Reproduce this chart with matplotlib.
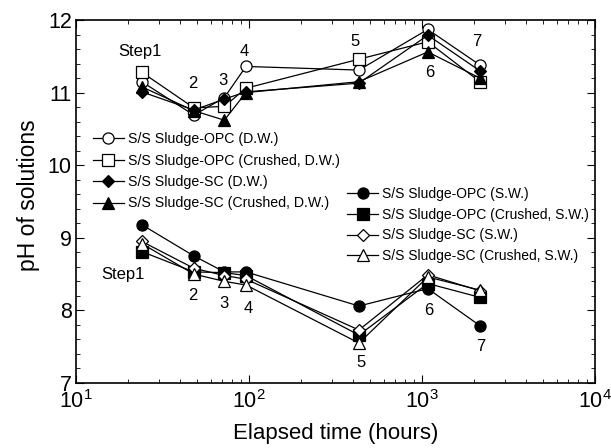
import matplotlib
matplotlib.use("Agg")
import matplotlib.pyplot as plt
from matplotlib.ticker import MultipleLocator, LogLocator, NullFormatter

plt.rcParams['font.family'] = ['Liberation Sans', 'DejaVu Sans']
plt.rcParams['mathtext.fontset'] = 'custom'
plt.rcParams['mathtext.rm'] = 'Liberation Sans'

times = [24, 48, 72, 96, 432, 1080, 2160]

# D.W. series
opc_dw = [11.15, 10.69, 10.93, 11.36, 11.31, 11.87, 11.38]
opc_cr_dw = [11.28, 10.79, 10.81, 11.06, 11.46, 11.70, 11.15]
sc_dw = [11.01, 10.76, 10.91, 11.01, 11.13, 11.79, 11.30]
sc_cr_dw = [11.08, 10.75, 10.62, 11.00, 11.15, 11.56, 11.20]

# S.W. series
opc_sw = [9.18, 8.75, 8.53, 8.53, 8.06, 8.30, 7.79]
opc_cr_sw = [8.81, 8.53, 8.52, 8.48, 7.66, 8.37, 8.18]
sc_sw = [8.95, 8.58, 8.48, 8.43, 7.73, 8.49, 8.27]
sc_cr_sw = [8.92, 8.50, 8.40, 8.35, 7.55, 8.46, 8.28]

labels_dw = ['S/S Sludge-OPC (D.W.)', 'S/S Sludge-OPC (Crushed, D.W.)',
             'S/S Sludge-SC (D.W.)', 'S/S Sludge-SC (Crushed, D.W.)']
labels_sw = ['S/S Sludge-OPC (S.W.)', 'S/S Sludge-OPC (Crushed, S.W.)',
             'S/S Sludge-SC (S.W.)', 'S/S Sludge-SC (Crushed, S.W.)']

step_labels = ['Step1', '2', '3', '4', '5', '6', '7']
# label positions (time, pH) for upper and lower groups
top_lab_t = [23.5, 47.4, 70.8, 93.5, 410, 1112, 2080]
top_lab_y = [11.57, 11.13, 11.17, 11.57, 11.70, 11.27, 11.70]
bot_lab_t = [18.7, 47.4, 71.6, 98.6, 443, 1096, 2193]
bot_lab_y = [8.49, 8.21, 8.10, 8.03, 7.28, 8.00, 7.50]

fig = plt.figure(figsize=(6.11, 4.48), dpi=100)
ax = fig.add_axes([0.1244, 0.1451, 0.8494, 0.8103])

lw = 0.9
ms = 8
common = dict(color='black', lw=lw, markersize=ms, markeredgecolor='black', markeredgewidth=0.9)

h_dw = []
h_dw += ax.plot(times, opc_dw, marker='o', markerfacecolor='white', label=labels_dw[0], **common)
h_dw += ax.plot(times, opc_cr_dw, marker='s', markerfacecolor='white', label=labels_dw[1], **common)
h_dw += ax.plot(times, sc_dw, marker='D', markerfacecolor='black', label=labels_dw[2], **{**common, 'markersize': 6.5})
h_dw += ax.plot(times, sc_cr_dw, marker='^', markerfacecolor='black', label=labels_dw[3], **common)

h_sw = []
h_sw += ax.plot(times, opc_sw, marker='o', markerfacecolor='black', label=labels_sw[0], **common)
h_sw += ax.plot(times, opc_cr_sw, marker='s', markerfacecolor='black', label=labels_sw[1], **common)
h_sw += ax.plot(times, sc_sw, marker='D', markerfacecolor='white', label=labels_sw[2], **{**common, 'markersize': 6.5})
h_sw += ax.plot(times, sc_cr_sw, marker='^', markerfacecolor='white', label=labels_sw[3], **common)

for s, t, y in zip(step_labels, top_lab_t, top_lab_y):
    ax.text(t, y, s, ha='center', va='center', fontsize=12)
for s, t, y in zip(step_labels, bot_lab_t, bot_lab_y):
    ax.text(t, y, s, ha='center', va='center', fontsize=12)

ax.set_xscale('log')
ax.set_xlim(10, 1e4)
ax.set_ylim(7, 12)
ax.yaxis.set_major_locator(MultipleLocator(1))
ax.yaxis.set_minor_locator(MultipleLocator(0.2))
ax.xaxis.set_major_locator(LogLocator(base=10, numticks=10))
ax.xaxis.set_minor_locator(LogLocator(base=10, subs=range(2, 10), numticks=20))
ax.xaxis.set_minor_formatter(NullFormatter())
ax.tick_params(which='both', direction='in', top=True, right=True)
ax.tick_params(which='major', length=6, labelsize=15.5, pad=3)
ax.tick_params(axis='x', which='major', pad=5)
ax.tick_params(which='minor', length=3)
for sp in ax.spines.values():
    sp.set_linewidth(1.2)

ax.set_xlabel('Elapsed time (hours)', fontsize=16, labelpad=7)
ax.set_ylabel('pH of solutions', fontsize=16.5, labelpad=6)
ax.yaxis.label.set_y(0.518)

leg1 = ax.legend(handles=h_dw, loc='upper left', bbox_to_anchor=(0.021, 0.706),
                 frameon=False, fontsize=10.2, handlelength=2.2, handletextpad=0.3,
                 labelspacing=0.52, borderaxespad=0)
ax.add_artist(leg1)
ax.legend(handles=h_sw, loc='upper left', bbox_to_anchor=(0.512, 0.555),
          frameon=False, fontsize=10.0, handlelength=2.2, handletextpad=0.3,
          labelspacing=0.48, borderaxespad=0)

fig.savefig('out.png', dpi=100)
